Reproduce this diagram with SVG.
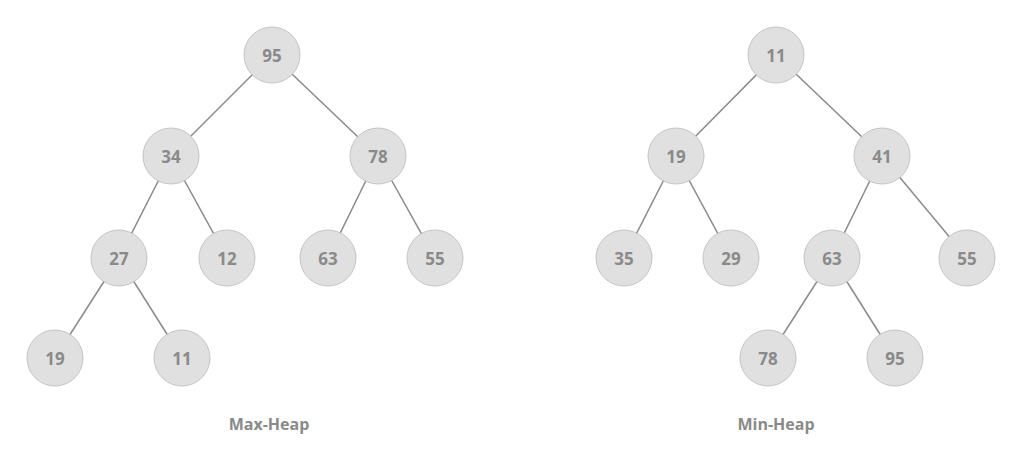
<svg xmlns="http://www.w3.org/2000/svg" width="1024" height="461" viewBox="0 0 1024 461">
<style>
.e{stroke:#8a8a8a;stroke-width:1.5;fill:none}
.n circle{fill:#e0e0e0;stroke:#c4c4c4;stroke-width:1}
.n text,.lbl{font-family:"Open Sans","Liberation Sans",sans-serif;font-weight:bold;fill:#8a8a8a;text-anchor:middle;dominant-baseline:central}
.n text{font-size:17px}
.lbl{font-size:16px}
</style>
<rect width="1024" height="461" fill="#fff"/>
<g id="connectors">
<line class="e" x1="272" y1="55" x2="171" y2="156"/>
<line class="e" x1="272" y1="55" x2="378" y2="156"/>
<line class="e" x1="171" y1="156" x2="119" y2="258"/>
<line class="e" x1="171" y1="156" x2="227" y2="258"/>
<line class="e" x1="378" y1="156" x2="328" y2="258"/>
<line class="e" x1="378" y1="156" x2="435" y2="258"/>
<line class="e" x1="119" y1="258" x2="55" y2="358"/>
<line class="e" x1="119" y1="258" x2="182" y2="358"/>
<line class="e" x1="776" y1="55" x2="676" y2="156"/>
<line class="e" x1="776" y1="55" x2="882" y2="156"/>
<line class="e" x1="676" y1="156" x2="624" y2="258"/>
<line class="e" x1="676" y1="156" x2="731" y2="258"/>
<line class="e" x1="882" y1="156" x2="832" y2="258"/>
<line class="e" x1="882" y1="156" x2="967" y2="258"/>
<line class="e" x1="832" y1="258" x2="768" y2="358"/>
<line class="e" x1="832" y1="258" x2="895" y2="358"/>
</g>
<g id="max95" class="n"><circle cx="272" cy="55" r="28"/><text x="272" y="55">95</text></g>
<g id="max34" class="n"><circle cx="171" cy="156" r="28"/><text x="171" y="156">34</text></g>
<g id="max78" class="n"><circle cx="378" cy="156" r="28"/><text x="378" y="156">78</text></g>
<g id="max27" class="n"><circle cx="119" cy="258" r="28"/><text x="119" y="258">27</text></g>
<g id="max12" class="n"><circle cx="227" cy="258" r="28"/><text x="227" y="258">12</text></g>
<g id="max63" class="n"><circle cx="328" cy="258" r="28"/><text x="328" y="258">63</text></g>
<g id="max55" class="n"><circle cx="435" cy="258" r="28"/><text x="435" y="258">55</text></g>
<g id="max19" class="n"><circle cx="55" cy="358" r="28"/><text x="55" y="358">19</text></g>
<g id="max11" class="n"><circle cx="182" cy="358" r="28"/><text x="182" y="358">11</text></g>
<g id="min11" class="n"><circle cx="776" cy="55" r="28"/><text x="776" y="55">11</text></g>
<g id="min19" class="n"><circle cx="676" cy="156" r="28"/><text x="676" y="156">19</text></g>
<g id="min41" class="n"><circle cx="882" cy="156" r="28"/><text x="882" y="156">41</text></g>
<g id="min35" class="n"><circle cx="624" cy="258" r="28"/><text x="624" y="258">35</text></g>
<g id="min29" class="n"><circle cx="731" cy="258" r="28"/><text x="731" y="258">29</text></g>
<g id="min63" class="n"><circle cx="832" cy="258" r="28"/><text x="832" y="258">63</text></g>
<g id="min55" class="n"><circle cx="967" cy="258" r="28"/><text x="967" y="258">55</text></g>
<g id="min78" class="n"><circle cx="768" cy="358" r="28"/><text x="768" y="358">78</text></g>
<g id="min95" class="n"><circle cx="895" cy="358" r="28"/><text x="895" y="358">95</text></g>
<text class="lbl" x="269" y="424">Max-Heap</text>
<text class="lbl" x="776" y="424">Min-Heap</text>
</svg>
